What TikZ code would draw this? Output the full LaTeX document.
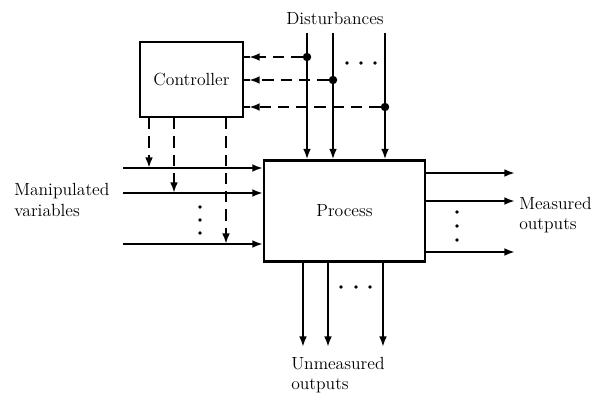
\documentclass[tikz,border=0pt]{standalone}
\usetikzlibrary{arrows.meta,positioning,calc}

\begin{document}
\begin{tikzpicture}[
        x=0.025cm, y=-0.025cm,
        every node/.style={font=\fontsize{12.5}{14.5}\selectfont},
        block/.style={draw, line width=1.5pt, fill=white},
        signal/.style={line width=1.9pt, -{Latex[length=7.5pt,width=5.5pt]}},
        ctrlsignal/.style={signal, dash pattern=on 8pt off 5pt},
        junction/.style={circle, fill, inner sep=0pt, minimum size=6pt},
        dotmark/.style={circle, fill, inner sep=0pt, minimum size=2.6pt},
        lbl/.style={align=left, inner sep=0pt},
    ]
    \useasboundingbox (0,0) rectangle (603,400);

    % the two blocks
    \node[block, minimum width=2.575cm, minimum height=1.875cm] (ctrl) at (191.5,79.5) {Controller};
    \node[block, minimum width=4.025cm, minimum height=2.525cm] (proc) at (344.5,211) {Process};

    % disturbances
    \node (dist) at (335,18) {Disturbances};
    \foreach \i/\x in {1/307, 2/333, 3/385} {
        \coordinate (dtop\i) at (\x,33);
        \draw[signal] (dtop\i) -- (dtop\i |- proc.north);
    }
    \node[junction] (j1) at (307,57) {};
    \node[junction] (j2) at (333,80) {};
    \node[junction] (j3) at (385,107) {};
    \foreach \i in {1,2,3} {
        \draw[ctrlsignal] (j\i) -- ($(j\i -| ctrl.east)+(5,0)$);
        \draw[line width=1.9pt] ($(j\i -| ctrl.east)+(6,0)$) -- (j\i -| ctrl.east);
    }
    \foreach \i/\x in {1/347, 2/361, 3/375}
        \node[dotmark] (dd\i) at (\x,63) {};

    % manipulated variables
    \node[lbl, anchor=west] (manip) at (14,200) {Manipulated\\variables};
    \foreach \i/\y in {1/168, 2/193, 3/244} {
        \coordinate (u\i) at (123,\y);
        \draw[signal] (u\i) -- (u\i -| proc.west);
    }
    \coordinate (k1) at (149,168);
    \coordinate (k2) at (174,193);
    \coordinate (k3) at (226,244);
    \foreach \i in {1,2,3}
        \draw[ctrlsignal] (k\i |- ctrl.south) -- (k\i);
    \foreach \i/\y in {1/207, 2/220, 3/233}
        \node[dotmark] (ud\i) at (200,\y) {};

    % measured outputs
    \node[lbl, anchor=west] (meas) at (519,215) {Measured\\outputs};
    \foreach \i/\y in {1/173, 2/201, 3/252} {
        \coordinate (y\i) at (515,\y);
        \draw[signal] (y\i -| proc.east) -- (y\i);
    }
    \foreach \i/\y in {1/212, 2/226, 3/240}
        \node[dotmark] (yd\i) at (457,\y) {};

    % unmeasured outputs
    \node[lbl, anchor=north west] (unmeas) at (291,357) {Unmeasured\\outputs};
    \foreach \i/\x in {1/303, 2/328, 3/383} {
        \coordinate (z\i) at (\x,347);
        \draw[signal] (z\i |- proc.south) -- (z\i);
    }
    \foreach \i/\x in {1/341, 2/356, 3/370}
        \node[dotmark] (zd\i) at (\x,287) {};
\end{tikzpicture}
\end{document}
